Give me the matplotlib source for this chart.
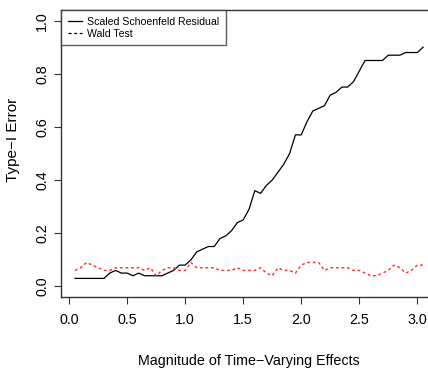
import matplotlib.pyplot as plt
import numpy as np
from matplotlib.lines import Line2D

# magnitude of time-varying effect, 0.05 .. 3.05
magnitude = np.round(np.arange(1, 62) * 0.05, 2)

# scaled schoenfeld residual test (rejection rate)
schoenfeld = [0.03, 0.03, 0.03, 0.03, 0.03, 0.03, 0.05, 0.06, 0.05, 0.05,
              0.04, 0.05, 0.04, 0.04, 0.04, 0.04, 0.05, 0.06, 0.08, 0.08,
              0.10, 0.13, 0.14, 0.15, 0.15, 0.18, 0.19, 0.21, 0.24, 0.25,
              0.29, 0.36, 0.35, 0.38, 0.40, 0.43, 0.46, 0.50, 0.57, 0.57,
              0.62, 0.66, 0.67, 0.68, 0.72, 0.73, 0.75, 0.75, 0.77, 0.81,
              0.85, 0.85, 0.85, 0.85, 0.87, 0.87, 0.87, 0.88, 0.88, 0.88,
              0.90]

# wald test
wald = [0.06, 0.07, 0.09, 0.08, 0.07, 0.06, 0.06, 0.07, 0.07, 0.07,
        0.07, 0.07, 0.06, 0.07, 0.04, 0.06, 0.07, 0.07, 0.06, 0.06,
        0.09, 0.07, 0.07, 0.07, 0.07, 0.06, 0.06, 0.06, 0.07, 0.06,
        0.06, 0.06, 0.07, 0.05, 0.04, 0.07, 0.06, 0.06, 0.05, 0.08,
        0.09, 0.09, 0.09, 0.06, 0.07, 0.07, 0.07, 0.07, 0.06, 0.06,
        0.05, 0.04, 0.04, 0.05, 0.06, 0.08, 0.07, 0.05, 0.06, 0.08,
        0.08]

xticks = [0.0, 0.5, 1.0, 1.5, 2.0, 2.5, 3.0]
yticks = [0.0, 0.2, 0.4, 0.6, 0.8, 1.0]

font = ['Liberation Sans', 'DejaVu Sans']

fig = plt.figure(figsize=(4.28, 3.7), dpi=100)
ax = fig.add_axes([61 / 428, 73 / 370, 376 / 428, 287 / 370])

ax.plot(magnitude, schoenfeld, color='black', lw=0.9)
ax.plot(magnitude, wald, color='#ff2a2a', lw=1.0, ls=(0, (2, 2)))

# R style limits: data range + 4%
xr = magnitude[-1] - magnitude[0]
ax.set_xlim(magnitude[0] - 0.04 * xr, magnitude[-1] + 0.04 * xr)
ax.set_ylim(-0.04, 1.04)

ax.set_xticks(xticks)
ax.set_xticklabels(['%.1f' % v for v in xticks], family=font, fontsize=10.3)
ax.set_yticks(yticks)
ax.set_yticklabels(['%.1f' % v for v in yticks], family=font, fontsize=10.3,
                   rotation=90, va='center')
ax.tick_params(direction='out', length=5, width=0.8, color='#333333')
ax.tick_params(axis='x', pad=6.3)
ax.tick_params(axis='y', pad=3.4)

for s in ax.spines.values():
    s.set_linewidth(1.0)
    s.set_color('#333333')

ax.set_xlabel('Magnitude of Time\u2212Varying Effects', family=font, fontsize=10.3)
ax.set_ylabel('Type\u2212I Error', family=font, fontsize=11)
ax.xaxis.set_label_coords(0.5, -0.2)
ax.yaxis.set_label_coords(-0.109, 0.547)

handles = [Line2D([], [], color='black', lw=0.9),
           Line2D([], [], color='black', lw=0.9, ls=(0, (2.5, 2)))]
leg = ax.legend(handles, ['Scaled Schoenfeld Residual', 'Wald Test'],
                loc='upper left', bbox_to_anchor=(0, 1), borderaxespad=0,
                fancybox=False, prop={'family': font, 'size': 7.6},
                handlelength=1.35, handletextpad=0.5, labelspacing=0.2,
                borderpad=0.62)
leg.get_frame().set_edgecolor('#333333')
leg.get_frame().set_linewidth(1.0)

fig.savefig('out.png', dpi=100)
